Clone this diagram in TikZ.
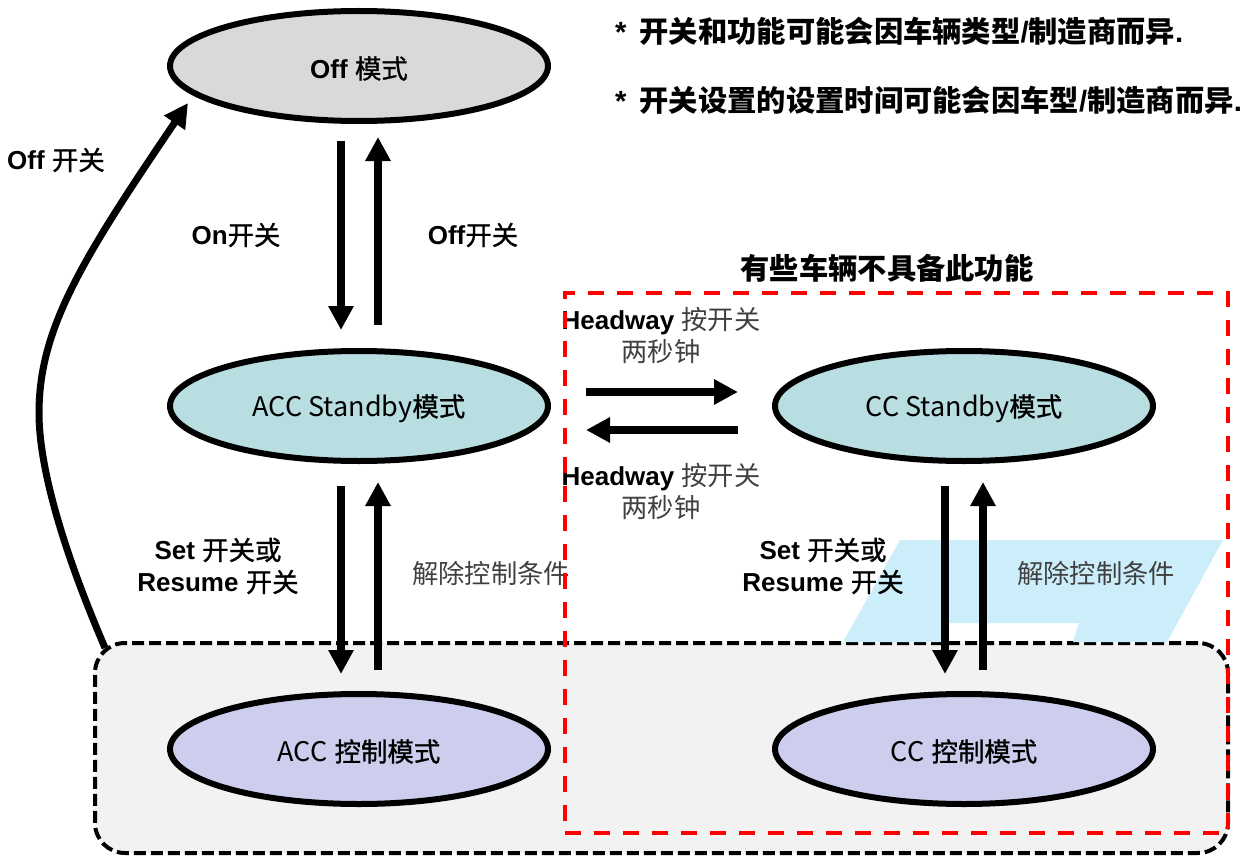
\documentclass[tikz,border=0pt]{standalone}
\usepackage{fontspec}
\setmainfont{Liberation Sans}
\newfontfamily\cjk{Noto Sans CJK SC}
\newfontfamily\cjkm[FakeBold=1.0]{Noto Sans CJK SC}
\usetikzlibrary{arrows.meta,shapes.geometric}
\newcommand{\bt}[1]{{\bfseries #1}}
\newcommand{\bc}[1]{{\cjkm\fontsize{26.4}{32}\selectfont #1}}
\newcommand{\bd}[1]{{\cjk\bfseries #1}}
\newcommand{\lc}[1]{{\cjk\color{lighttxt}\fontsize{26.3}{32}\selectfont #1}}
\newcommand{\lt}[1]{{\cjk\fontsize{27}{32}\selectfont #1}}
\definecolor{lighttxt}{HTML}{404040}
\definecolor{grayfill}{HTML}{D9D9D9}
\definecolor{bluefill}{HTML}{B9DEE2}
\definecolor{lilacfill}{HTML}{CDCDEE}
\definecolor{boxfill}{HTML}{F2F2F2}
\definecolor{paral}{HTML}{CBEEFA}
\definecolor{redline}{HTML}{FF0000}
\tikzset{
  fs/.style={font=\fontsize{26}{32}\selectfont},
  fsb/.style={font=\fontsize{29.3}{35}\selectfont},
  mode/.style={draw=black,line width=6pt,ellipse,minimum width=378pt,minimum height=110pt,inner sep=0pt,fs},
  lab/.style={fs,align=center,inner sep=0pt},
  big/.style={line width=8pt,-{Triangle[length=24pt,width=24pt]}},
}
\begin{document}
\begin{tikzpicture}[x=1pt,y=-1pt]
\useasboundingbox (0,0) rectangle (1242,856);
\node[draw=black,dash pattern=on 12pt off 5pt,line width=4pt,fill=boxfill,rounded corners=30pt,
      minimum width=1133pt,minimum height=210pt,inner sep=0pt] (box) at (661.5,748) {};
\fill[paral] (900,540) -- (1223,540) -- (1167,642) -- (1073,642) -- (1079,623) -- (945,623) -- (945,642) -- (843,642) -- cycle;

\node[mode,fill=grayfill] (off) at (359,66) {};
\node[mode,fill=bluefill] (accs) at (359,406) {};
\node[mode,fill=bluefill] (ccs) at (964,406) {};
\node[mode,fill=lilacfill] (accc) at (359,749) {};
\node[mode,fill=lilacfill] (ccc) at (964,749) {};
\node[lab] (off-t) at (359,68.5) {\bt{Off} \bc{模式}};
\node[lab] (accs-t) at (359,408.5) {\lt{ACC Standby}\bc{模式}};
\node[lab] (ccs-t) at (964,408.5) {\lt{CC Standby}\bc{模式}};
\node[lab] (accc-t) at (359,751.5) {\lt{ACC} \bc{控制模式}};
\node[lab] (ccc-t) at (964,751.5) {\lt{CC} \bc{控制模式}};

\draw[big] ([shift={(-18,75)}]off.center) -- ([shift={(-18,-76)}]accs.center);
\draw[big] ([shift={(19,-81)}]accs.center) -- ([shift={(19,71)}]off.center);
\draw[big] ([shift={(-18,80)}]accs.center) -- ([shift={(-18,-75)}]accc.center);
\draw[big] ([shift={(19,-79)}]accc.center) -- ([shift={(19,76)}]accs.center);
\draw[big] ([shift={(-19,80)}]ccs.center) -- ([shift={(-19,-75)}]ccc.center);
\draw[big] ([shift={(19,-79)}]ccc.center) -- ([shift={(19,76)}]ccs.center);
\draw[big] ([shift={(227,-14)}]accs.center) -- ([shift={(-226,-14)}]ccs.center);
\draw[big] ([shift={(-226,24)}]ccs.center) -- ([shift={(227,24)}]accs.center);
\coordinate (bend) at (39,413);
\draw[line width=7pt,-{Triangle[length=24pt,width=24pt]}] ([shift={(-556.5,-100)}]box.center) .. controls (100,635) and (39,500) .. (bend) .. controls (39,330) and (80,262) .. ([shift={(-171,37)}]off.center);

\node[lab,anchor=west] (t0) at (7,160) {\bt{Off} \bc{开关}};
\node[lab] (t1) at (236,235) {\bt{On}\bc{开关}};
\node[lab] (t2) at (473,235) {\bt{Off}\bc{开关}};
\node[lab] (t3) at (218,566) {\bt{Set} \bc{开关或}\\[0pt]\bt{Resume} \bc{开关}};
\node[lab] (t4) at (823,566) {\bt{Set} \bc{开关或}\\[0pt]\bt{Resume} \bc{开关}};
\node[lab] (t5) at (491,573) {\lc{解除控制条件}};
\node[lab] (t6) at (1096,573) {\lc{解除控制条件}};
\node[lab] (t7) at (661,335) {\bt{Headway} \lc{按开关}\\[0pt]\lc{两秒钟}};
\node[lab] (t8) at (661,491) {\bt{Headway} \lc{按开关}\\[0pt]\lc{两秒钟}};
\node[fsb,inner sep=0pt] (t9) at (887,268) {\bd{有些车辆不具备此功能}};
\node[fsb,inner sep=0pt,anchor=west] (n1) at (615,31) {\bt{*}\hspace{13pt}\bd{开关和功能可能会因车辆类型}\bt{/}\bd{制造商而异}\bt{.}};
\node[fsb,inner sep=0pt,anchor=west] (n2) at (615,100) {\bt{*}\hspace{13pt}\bd{开关设置的设置时间可能会因车型}\bt{/}\bd{制造商而异}\bt{.}};

\node[draw=redline,dash pattern=on 16pt off 13pt,line width=4pt,minimum width=663pt,minimum height=540pt,inner sep=0pt] (red) at (896.5,563) {};
\end{tikzpicture}
\end{document}
